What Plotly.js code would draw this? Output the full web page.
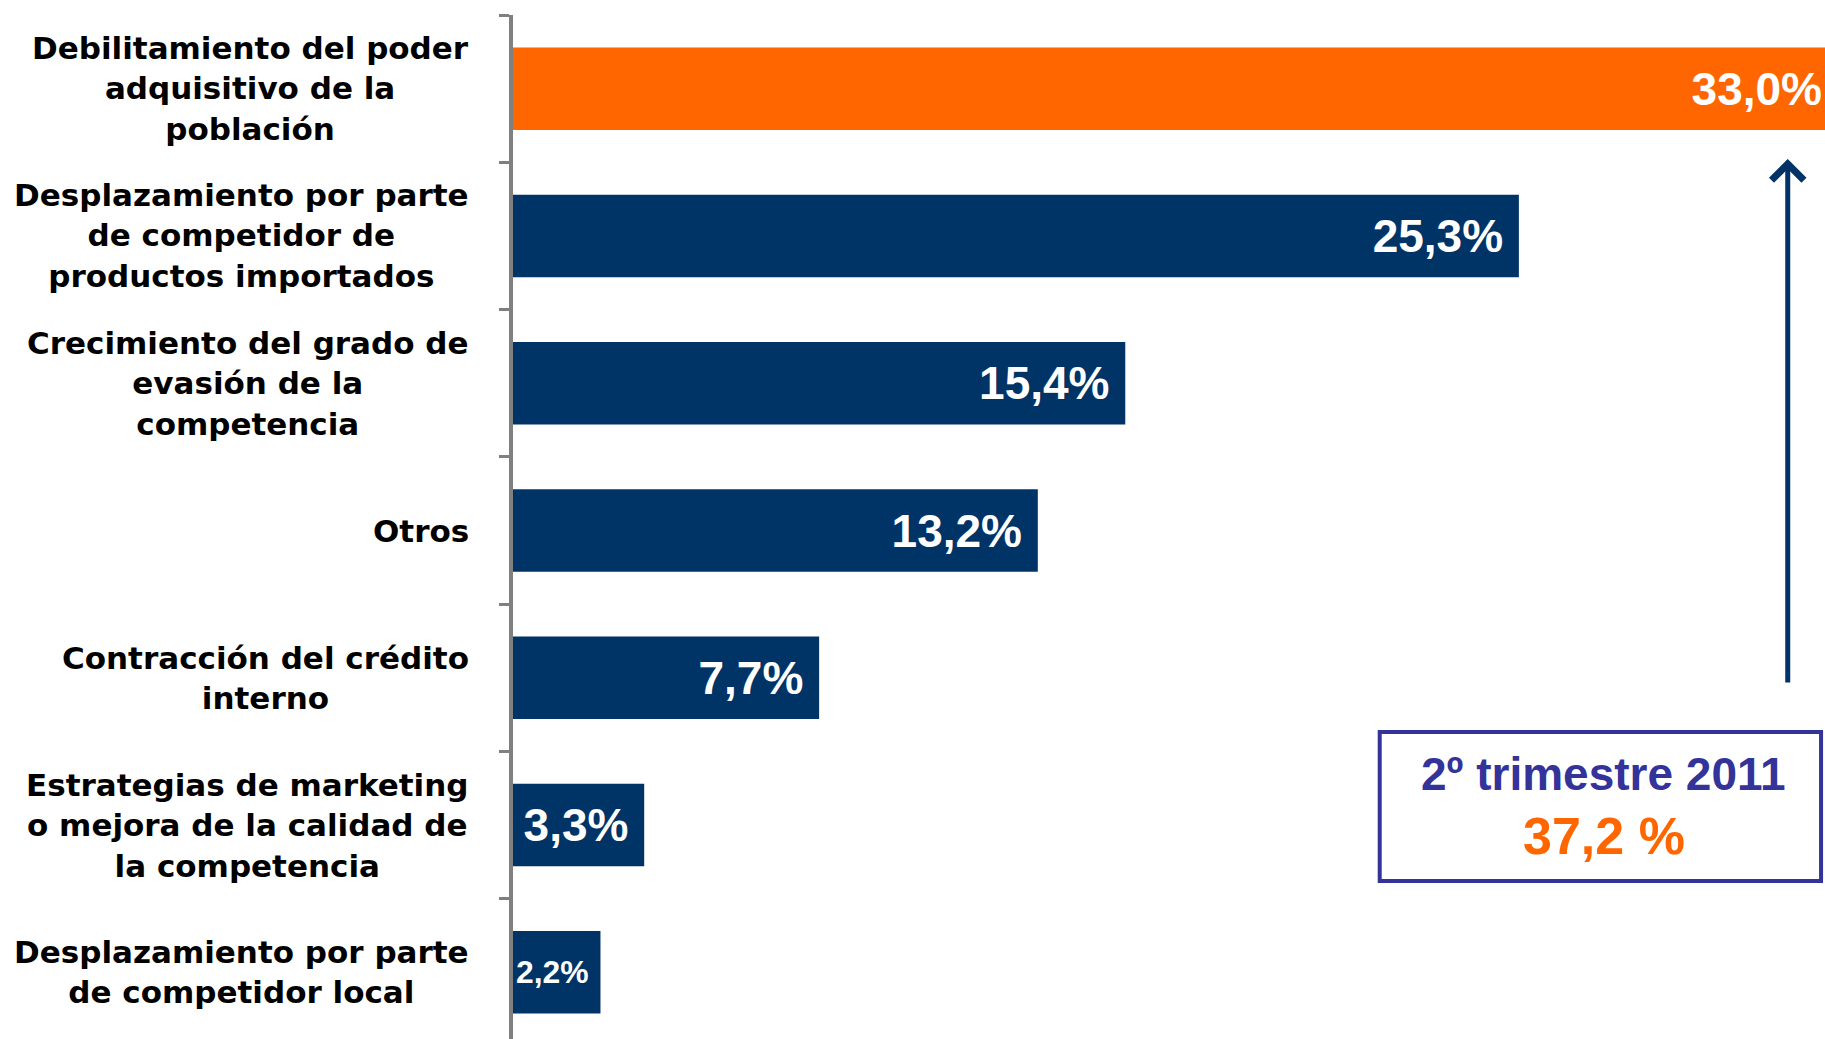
<!DOCTYPE html>
<html>
<head>
<meta charset="utf-8">
<script src="https://cdn.plot.ly/plotly-3.0.1.min.js"></script>
<style>
  html, body { margin: 0; padding: 0; overflow: hidden; background: #ffffff; }
  #chart { width: 1825px; height: 1046px; }
</style>
</head>
<body>
<div id="chart"></div>
<script>
// ---- data ----
const categories = [
  "Debilitamiento del poder<br>adquisitivo de la<br>población",
  "Desplazamiento por parte<br>de competidor de<br>productos importados",
  "Crecimiento del grado de<br>evasión de la<br>competencia",
  "Otros",
  "Contracción del crédito<br>interno",
  "Estrategias de marketing<br>o mejora de la calidad de<br>la competencia",
  "Desplazamiento por parte<br>de competidor local"
];
const values = [33.0, 25.3, 15.4, 13.2, 7.7, 3.3, 2.2];
const boxTitle = "2º trimestre 2011";
const boxValue = "37,2 %";

// ---- styling ----
const NAVY = "#003366";
const ORANGE = "#FF6600";
const colors = values.map((v, i) => (i === 0 ? ORANGE : NAVY));
// the highlighted bar runs to the edge of the picture, so its label has no extra right padding
const labels = values.map((v, i) => v.toFixed(1).replace(".", ",") + "%" + (i === 0 ? "" : "\u00a0"));

const trace = {
  type: "bar",
  orientation: "h",
  y: categories,
  x: values,
  marker: { color: colors, line: { width: 0 } },
  text: labels,
  textposition: "inside",
  insidetextanchor: "end",
  textfont: { family: "Liberation Sans, Arial, sans-serif", size: 46, color: "#ffffff", weight: "bold" },
  hoverinfo: "skip"
};

const catAnnotations = categories.map(c => ({
  xref: "paper", yref: "y",
  x: 0, y: c,
  xanchor: "right", yanchor: "middle",
  xshift: -42,
  align: "center",
  showarrow: false,
  text: c,
  font: { family: "DejaVu Sans, sans-serif", size: 31, color: "#000000", weight: "bold" }
}));

const layout = {
  width: 1825,
  height: 1046,
  margin: { l: 513, r: 0, t: 15, b: 0, pad: 0 },
  paper_bgcolor: "#ffffff",
  plot_bgcolor: "#ffffff",
  showlegend: false,
  bargap: 0.44,
  xaxis: {
    range: [0, Math.max(...values)],
    showgrid: false, zeroline: false, showticklabels: false, ticks: "", showline: false
  },
  yaxis: {
    type: "category",
    range: [categories.length - 0.5, -0.5],
    showgrid: false, zeroline: false,
    showticklabels: false,
    ticks: "outside", tickson: "boundaries", ticklen: 10, tickwidth: 3, tickcolor: "#808080",
    showline: true, linecolor: "#808080", linewidth: 4
  },
  shapes: [
    {
      type: "rect", xref: "paper", yref: "paper",
      x0: 0.6606, x1: 0.9970, y0: 0.160, y1: 0.3046,
      line: { color: "#333399", width: 4 },
      fillcolor: "rgba(0,0,0,0)"
    }
  ],
  annotations: catAnnotations.concat([
    {
      xref: "paper", yref: "paper", x: 0.9716, y: 0.8603,
      ax: 0, ay: 525, axref: "pixel", ayref: "pixel",
      text: "", showarrow: true,
      arrowhead: 4, arrowsize: 1.25, arrowwidth: 5, arrowcolor: NAVY,
      standoff: 0, startstandoff: 0
    },
    {
      xref: "paper", yref: "paper", x: 0.8314, y: 0.2638,
      xanchor: "center", yanchor: "middle", showarrow: false,
      text: boxTitle,
      font: { family: "Liberation Sans, Arial, sans-serif", size: 46, color: "#333399", weight: "bold" }
    },
    {
      xref: "paper", yref: "paper", x: 0.8314, y: 0.2037,
      xanchor: "center", yanchor: "middle", showarrow: false,
      text: boxValue,
      font: { family: "Liberation Sans, Arial, sans-serif", size: 52, color: ORANGE, weight: "bold" }
    }
  ])
};

Plotly.newPlot("chart", [trace], layout, { staticPlot: true, displayModeBar: false });
</script>
</body>
</html>
